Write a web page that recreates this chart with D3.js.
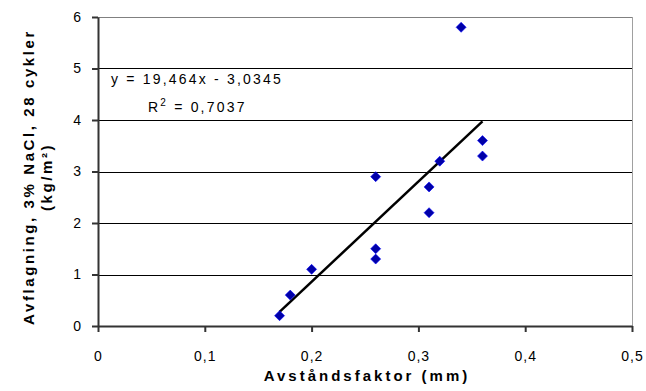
<!DOCTYPE html>
<html>
<head>
<meta charset="utf-8">
<script src="https://cdn.jsdelivr.net/npm/d3@7"></script>
<style>
  body { margin: 0; background: #fff; }
  text { font-family: Arial, "Liberation Sans", sans-serif; }
</style>
</head>
<body>
<div id="chart"></div>
<script>
// measured points: distance factor (mm) vs scaling (kg/m2)
var xVals = [0.17, 0.18, 0.20, 0.26, 0.26, 0.26, 0.31, 0.31, 0.32, 0.34, 0.36, 0.36];
var yVals = [0.2, 0.6, 1.1, 1.5, 1.3, 2.9, 2.7, 2.2, 3.2, 5.8, 3.6, 3.3];
var xTicks = [0, 0.1, 0.2, 0.3, 0.4, 0.5];
var yTicks = [0, 1, 2, 3, 4, 5, 6];
var slope = 19.464, intercept = -3.0345;
var trendRange = [0.17, 0.36];

var W = 646, H = 391,
    margin = {top: 17, right: 14, bottom: 65, left: 98},
    width = W - margin.left - margin.right,
    height = H - margin.top - margin.bottom;

var fmt = function(d) { return String(d).replace(".", ","); };

var svg = d3.select("#chart").append("svg")
    .attr("width", W).attr("height", H);
var g = svg.append("g")
    .attr("transform", "translate(" + margin.left + "," + margin.top + ")");

var x = d3.scaleLinear().domain([0, 0.5]).range([0, width]);
var y = d3.scaleLinear().domain([0, 6]).range([height, 0]);

// gridlines
g.selectAll(".grid").data(yTicks.slice(1)).enter().append("line")
    .attr("x1", 0).attr("x2", width)
    .attr("y1", function(d) { return Math.round(y(d)) + 0.5; })
    .attr("y2", function(d) { return Math.round(y(d)) + 0.5; })
    .attr("stroke", function(d) { return d === 6 ? "#808080" : "#000"; })
    .attr("stroke-width", 1);

// right border
g.append("line")
    .attr("x1", width + 0.5).attr("x2", width + 0.5)
    .attr("y1", 0).attr("y2", height)
    .attr("stroke", "#a0a0a0");

var xAxis = g.append("g")
    .attr("transform", "translate(0," + height + ")")
    .call(d3.axisBottom(x).tickValues(xTicks).tickFormat(fmt).tickSizeInner(6).tickSizeOuter(0).tickPadding(19));
var yAxis = g.append("g")
    .call(d3.axisLeft(y).tickValues(yTicks).tickFormat(fmt).tickSizeInner(6).tickSizeOuter(0).tickPadding(10));

[xAxis, yAxis].forEach(function(a) {
  a.select(".domain").attr("stroke", "#333").attr("stroke-width", 2);
  a.selectAll(".tick line").attr("stroke", "#333").attr("stroke-width", 2);
  a.selectAll(".tick text")
      .attr("font-size", 14).attr("fill", "#000")
      .style("font-family", "Arial, 'Liberation Sans', sans-serif")
      .style("letter-spacing", "1px");
});

// trend line
g.append("line")
    .attr("x1", x(trendRange[0])).attr("y1", y(slope * trendRange[0] + intercept))
    .attr("x2", x(trendRange[1])).attr("y2", y(slope * trendRange[1] + intercept))
    .attr("stroke", "#000").attr("stroke-width", 2.5);

// points as diamonds
var pts = xVals.map(function(v, i) { return [v, yVals[i]]; });
g.selectAll(".pt").data(pts).enter().append("path")
    .attr("d", "M0,-5L5,0L0,5L-5,0Z")
    .attr("transform", function(d) { return "translate(" + x(d[0]) + "," + y(d[1]) + ")"; })
    .attr("fill", "#0000a8").attr("stroke", "#0000ff").attr("stroke-width", 0.6);

// equation labels
svg.append("text")
    .attr("x", 111).attr("y", 84)
    .attr("font-size", 14).style("letter-spacing", "2.2px")
    .text("y = 19,464x - 3,0345");
var r2 = svg.append("text")
    .attr("x", 148).attr("y", 112)
    .attr("font-size", 14).style("letter-spacing", "2.2px");
r2.append("tspan").text("R");
r2.append("tspan").attr("dy", -6).attr("font-size", 10).text("2");
r2.append("tspan").attr("dy", 6).text(" = 0,7037");

// axis titles
svg.append("text")
    .attr("x", 367).attr("y", 381)
    .attr("text-anchor", "middle")
    .attr("font-size", 15).attr("font-weight", "bold")
    .style("letter-spacing", "3px")
    .text("Avståndsfaktor (mm)");

var yt = svg.append("text")
    .attr("transform", "translate(34,177) rotate(-90)")
    .attr("text-anchor", "middle")
    .attr("font-size", 15).attr("font-weight", "bold")
    .style("letter-spacing", "2.6px");
yt.append("tspan").attr("x", 0).attr("dy", 0).text("Avflagning, 3% NaCl, 28 cykler");
yt.append("tspan").attr("x", 0).attr("dy", 18).text("(kg/m²)");
</script>
</body>
</html>
